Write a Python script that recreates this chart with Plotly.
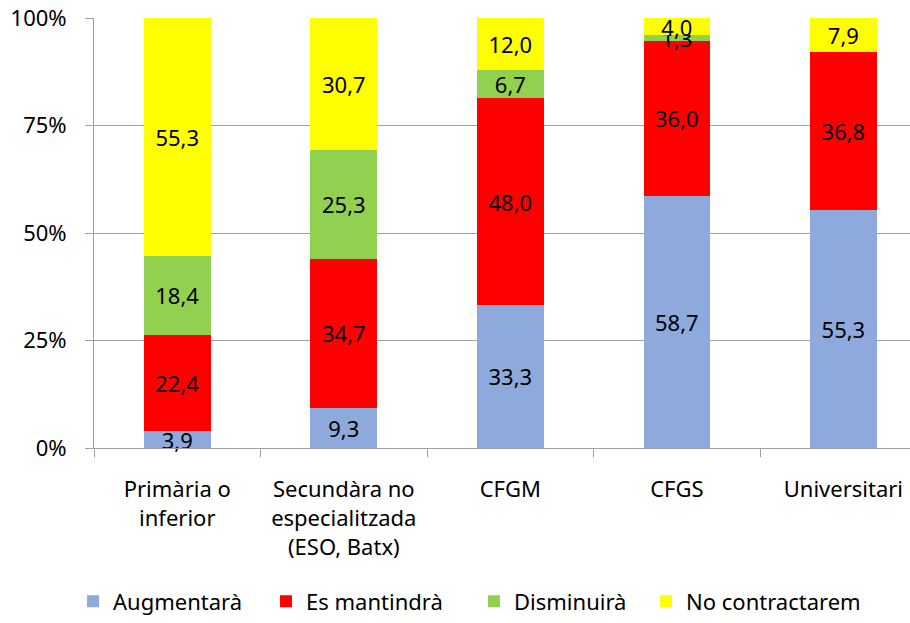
import plotly.graph_objects as go

categories = ["Primària o<br>inferior", "Secundàra no<br>especialitzada<br>(ESO, Batx)", "CFGM", "CFGS", "Universitari"]
series_names = ["Augmentarà", "Es mantindrà", "Disminuirà", "No contractarem"]
augmentara = [3.9, 9.3, 33.3, 58.7, 55.3]
es_mantindra = [22.4, 34.7, 48.0, 36.0, 36.8]
disminuira = [18.4, 25.3, 6.7, 1.3, 0.0]
no_contractarem = [55.3, 30.7, 12.0, 4.0, 7.9]
y_ticks = [0, 25, 50, 75, 100]
y_tick_labels = ["0%", "25%", "50%", "75%", "100%"]

colors = ["#8EA9DB", "#FF0000", "#92D050", "#FFFF00"]
FONT = "Noto Sans, sans-serif"
FS = 22

legend_ids = ["legend", "legend2", "legend3", "legend4"]
legend_x = [-0.0257, 0.2108, 0.4657, 0.6765]
LEG_Y = -0.357

def fmt(v):
    return "" if v == 0 else f"{v:.1f}".replace(".", ",")

fig = go.Figure()
for name, vals, col, lid in zip(series_names, [augmentara, es_mantindra, disminuira, no_contractarem], colors, legend_ids):
    fig.add_trace(go.Bar(
        x=categories, y=vals, name=name, legend=lid,
        marker=dict(color=col, line=dict(width=0)),
        text=[fmt(v) for v in vals],
        textposition="inside", insidetextanchor="middle", textangle=0,
        textfont=dict(family=FONT, size=FS, color="black"),
        width=0.4, cliponaxis=False,
    ))

legend_cfg = {}
for lid, lx in zip(legend_ids, legend_x):
    legend_cfg[lid] = dict(orientation="h", x=lx, xanchor="left", y=LEG_Y, yanchor="middle",
                           font=dict(family=FONT, size=FS), itemwidth=30,
                           bgcolor="rgba(0,0,0,0)")

fig.update_layout(
    barmode="stack",
    width=910, height=623,
    margin=dict(l=94, r=0, t=18, b=171),
    plot_bgcolor="white", paper_bgcolor="white",
    font=dict(family=FONT, size=FS, color="black"),
    uniformtext=dict(minsize=FS, mode="show"),
    showlegend=True,
    xaxis=dict(range=[-0.5, 4.4], tickson="boundaries", ticks="outside", ticklen=8,
               tickcolor="#A0A0A0", showline=True, linecolor="#A0A0A0", linewidth=1,
               showgrid=False, tickfont=dict(family=FONT, size=FS), fixedrange=True,
               automargin=False, ticklabelstandoff=22),
    yaxis=dict(range=[0, 100], tickvals=y_ticks, ticktext=y_tick_labels,
               ticks="outside", ticklen=8, tickcolor="#A0A0A0",
               showline=True, linecolor="#A0A0A0", linewidth=1,
               showgrid=True, gridcolor="#A0A0A0", gridwidth=1, zeroline=False,
               tickfont=dict(family=FONT, size=FS), automargin=False,
               ticklabelstandoff=14, ticklabeloverflow="allow"),
    **legend_cfg,
)

fig.write_html(
    "out.html",
    config={"displayModeBar": False},
    post_script=(
        "var s='margin:0;padding:0;overflow:hidden;width:910px;height:623px;';"
        "document.documentElement.style.cssText=s;document.body.style.cssText=s;"
    ),
)
